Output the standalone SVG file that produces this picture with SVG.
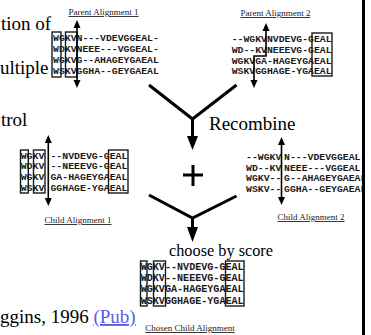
<svg xmlns="http://www.w3.org/2000/svg" width="371" height="335" viewBox="0 0 371 335">
<defs>
<style>
.seq{font-family:"Liberation Mono","Courier New",monospace;font-weight:bold;fill:#1a1a1a;}
.ttl{font-family:"Liberation Serif","Times New Roman",serif;font-size:9px;fill:#222;text-decoration:underline;text-anchor:middle;}
.slide{font-family:"Liberation Serif","Times New Roman",serif;font-size:19px;fill:#000;}
.lbl{font-family:"Liberation Serif","Times New Roman",serif;fill:#000;}
.box{fill:none;stroke:#1a1a1a;stroke-width:1.4;}
.thin{stroke:#000;stroke-width:1.6;fill:none;}
.big{stroke:#000;stroke-width:3;fill:none;stroke-linejoin:miter;}
.head{fill:#000;}
</style>
<clipPath id="clipImg"><rect x="0" y="0" width="362" height="335"/></clipPath>
</defs>
<rect x="0" y="0" width="371" height="335" fill="#fff"/>

<g id="slide-text">
<text class="slide" x="1" y="30">tion of</text>
<text class="slide" x="0" y="74">ultiple</text>
<text class="slide" x="1" y="126">trol</text>
<text class="slide" x="0" y="323">ggins, 1996 <tspan fill="#5b5bf0" text-decoration="underline">(Pub)</tspan></text>
</g>

<g clip-path="url(#clipImg)">
<g id="parent1">
<text class="ttl" x="103.5" y="15">Parent Alignment 1</text>
<g class="seq" font-size="9.8">
<text x="53" y="41">WGKVN---VDEVGGEAL-</text>
<text x="53" y="52">WDKVNEEE---VGGEAL-</text>
<text x="53" y="63">WGKVG--AHAGEYGAEAL</text>
<text x="53" y="74">WSKVGGHA--GEYGAEAL</text>
</g>
<rect class="box" x="52" y="32" width="9" height="45"/>
<rect class="box" x="65.5" y="32" width="11.5" height="45"/>
<line class="thin" x1="77" y1="27" x2="77" y2="81"/>
<polygon class="head" points="73.5,28 80.5,28 77,20"/>
<polygon class="head" points="73.5,80 80.5,80 77,88"/>
</g>

<g id="parent2">
<text class="ttl" x="275.5" y="16">Parent Alignment 2</text>
<g class="seq" font-size="9.8">
<text x="231.7" y="41.5">--WGKVNVDEVG-GEAL</text>
<text x="231.7" y="52.5">WD--KVNEEEVG-GEAL</text>
<text x="231.7" y="63.5">WGKVGA-HAGEYGAEAL</text>
<text x="231.7" y="74">WSKVGGHAGE-YGAEAL</text>
</g>
<rect class="box" x="312" y="33" width="20" height="43"/>
<polyline class="thin" points="266,30 266,56 254,56 254,81"/>
<polygon class="head" points="262.5,31 269.5,31 266,23"/>
<polygon class="head" points="250.5,80 257.5,80 254,88"/>
</g>

<g id="child1">
<g class="seq" font-size="9.9">
<text x="20.7" y="158.5">WGKV</text><text x="50.4" y="158.5">--NVDEVG-GEAL</text>
<text x="20.7" y="169">WDKV</text><text x="50.4" y="169">--NEEEVG-GEAL</text>
<text x="20.7" y="180">WGKV</text><text x="50.4" y="180">GA-HAGEYGAEAL</text>
<text x="20.7" y="190.5">WSKV</text><text x="50.4" y="190.5">GGHAGE-YGAEAL</text>
</g>
<rect class="box" x="20.5" y="150" width="7.8" height="43"/>
<rect class="box" x="33.5" y="150" width="11.5" height="43"/>
<rect class="box" x="108.5" y="150" width="19.5" height="43"/>
<line class="thin" x1="48.3" y1="142" x2="48.3" y2="199"/>
<polygon class="head" points="44.8,143 51.8,143 48.3,135"/>
<polygon class="head" points="44.8,198 51.8,198 48.3,206"/>
<text class="ttl" x="78" y="223">Child Alignment 1</text>
</g>

<g id="child2">
<g class="seq" font-size="9.8">
<text x="246" y="160">--WGKV</text><text x="284" y="160">N---VDEVGGEAL-</text>
<text x="246" y="170.5">WD--KV</text><text x="284" y="170.5">NEEE---VGGEAL-</text>
<text x="246" y="181">WGKV--</text><text x="284" y="181">G--AHAGEYGAEAL</text>
<text x="246" y="191.5">WSKV--</text><text x="284" y="191.5">GGHA--GEYGAEAL</text>
</g>
<line class="thin" x1="281.5" y1="144" x2="281.5" y2="198"/>
<polygon class="head" points="278,145 285,145 281.5,137"/>
<polygon class="head" points="278,197 285,197 281.5,205"/>
<text class="ttl" x="311" y="220">Child Alignment 2</text>
</g>

<g id="chosen">
<g class="seq" font-size="10.1">
<text x="140.7" y="269.5">WGKV--NVDEVG-GEAL</text>
<text x="140.7" y="281">WDKV--NEEEVG-GEAL</text>
<text x="140.7" y="292">WGKVGA-HAGEYGAEAL</text>
<text x="140.7" y="303.5">WSKVGGHAGE-YGAEAL</text>
</g>
<rect class="box" x="140.5" y="261" width="6.5" height="45"/>
<rect class="box" x="153.5" y="261" width="12" height="45"/>
<rect class="box" x="225.5" y="261" width="18.5" height="45"/>
<text class="ttl" x="190" y="331">Chosen Child Alignment</text>
</g>

<g id="labels">
<text class="lbl" x="209" y="130" font-size="19px">Recombine</text>
<text class="lbl" x="169" y="256" font-size="16.3px">choose by score</text>
</g>

<g id="connectors">
<polyline class="big" points="149,85 192.5,119 236.5,85"/>
<line class="big" x1="192.5" y1="119" x2="192.5" y2="137"/>
<polygon class="head" points="187,136 198,136 192.5,150"/>
<line class="big" x1="183" y1="175" x2="203" y2="175" stroke-width="2"/>
<line class="big" x1="193" y1="165" x2="193" y2="186" stroke-width="2"/>
<polyline class="big" points="149,195 192.5,218 236.5,196"/>
<line class="big" x1="192.5" y1="218" x2="192.5" y2="228"/>
<polygon class="head" points="187,227 198,227 192.5,242"/>
</g>
</g>

<rect x="362" y="0" width="3" height="335" fill="#000"/>
</svg>
